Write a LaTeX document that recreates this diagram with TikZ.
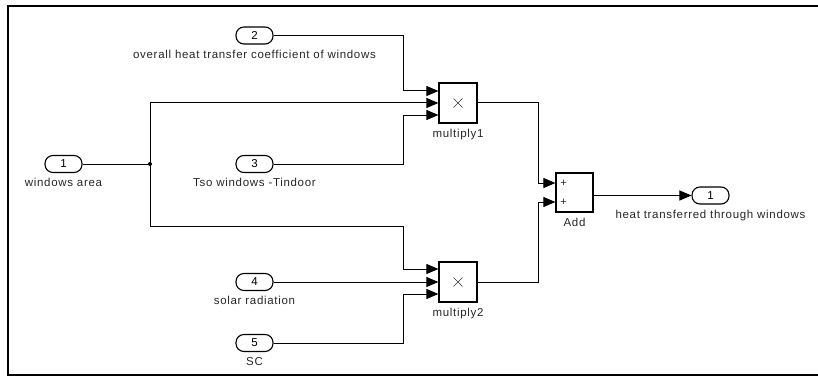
\documentclass[tikz,border=0pt]{standalone}
\usepackage{fontspec}
\setmainfont{Liberation Sans}
\usetikzlibrary{arrows.meta,calc}
\tikzset{
  lbl/.style={font=\fontsize{11.5}{12}\selectfont\addfontfeature{LetterSpace=6}, text=black!85, inner sep=0pt},
  port/.style={draw, line width=1.1pt, rounded corners=8pt, minimum width=37pt, minimum height=17pt, inner sep=0pt, font=\fontsize{11.5}{12}\selectfont,
    label={[lbl, yshift=-5pt]below:#1}},
  blk/.style={draw, line width=1.2pt, minimum width=38pt, minimum height=40pt, inner sep=0pt},
  sig/.style={line width=1pt, -{Triangle[length=12pt,width=10pt]}},
  wire/.style={line width=1pt},
  cross/.style={line width=0.6pt, black!80}
}
\begin{document}
\begin{tikzpicture}[x=1pt,y=-1pt]
\useasboundingbox (0,0) rectangle (818,377);
\draw[line width=2pt] (818,6) -- (7.5,6) -- (7.5,375) -- (818,375);

% ports
\node[port={windows area}] (in1) at (63.5,164) {1};
\node[port={overall heat transfer coefficient of windows}] (in2) at (254.5,35.5) {2};
\node[port={Tso windows -Tindoor}] (in3) at (254.5,164) {3};
\node[port={solar radiation}] (in4) at (254.5,282) {4};
\node[port={SC}] (in5) at (254.5,343) {5};
\node[port={heat transferred through windows}] (out1) at (710.5,195.5) {1};

% blocks
\node[blk, label={[lbl, yshift=-5pt]below:multiply1}] (m1) at (458,103) {};
\node[blk, label={[lbl, yshift=-5pt]below:multiply2}] (m2) at (458,282) {};
\draw[cross] ($(m1)+(-4.5,-4.5)$) -- ($(m1)+(4.5,4.5)$) ($(m1)+(-4.5,4.5)$) -- ($(m1)+(4.5,-4.5)$);
\draw[cross] ($(m2)+(-4.5,-4.5)$) -- ($(m2)+(4.5,4.5)$) ($(m2)+(-4.5,4.5)$) -- ($(m2)+(4.5,-4.5)$);
\node[blk, minimum width=37pt, minimum height=39pt, label={[lbl, yshift=-5pt]below:Add}] (add) at (574.5,192.5) {};
\node[lbl, font=\fontsize{11}{11}\selectfont] (p1) at (563.5,183) {+};
\node[lbl, font=\fontsize{11}{11}\selectfont] (p2) at (563.5,202) {+};

% inputs
\coordinate (m1a) at ($(m1.west)+(0,-12)$);
\coordinate (m1b) at (m1.west);
\coordinate (m1c) at ($(m1.west)+(0,12)$);
\coordinate (m2a) at ($(m2.west)+(0,-13)$);
\coordinate (m2b) at (m2.west);
\coordinate (m2c) at ($(m2.west)+(0,12)$);
\coordinate (adda) at (add.west |- 0,183);
\coordinate (addb) at (add.west |- 0,202);
\coordinate (bx) at (403,0);
\coordinate (cx) at (538,0);
\coordinate (j) at (150,164);

% connectors
\draw[wire] (in1.east) -- (j);
\fill (j) circle (2pt);
\draw[sig] (j) |- (m1b);
\draw[sig] (in2.east) -| (bx |- m1a) -- (m1a);
\draw[sig] (in3.east) -| (bx |- m1c) -- (m1c);
\draw[sig] (j) -- ++(0,62) -| (bx |- m2a) -- (m2a);
\draw[sig] (in4.east) -- (m2b);
\draw[sig] (in5.east) -| (bx |- m2c) -- (m2c);
\draw[sig] (m1.east) -| (cx |- adda) -- (adda);
\draw[sig] (m2.east) -| (cx |- addb) -- (addb);
\draw[sig] (add.east |- out1) -- (out1.west);
\end{tikzpicture}
\end{document}
